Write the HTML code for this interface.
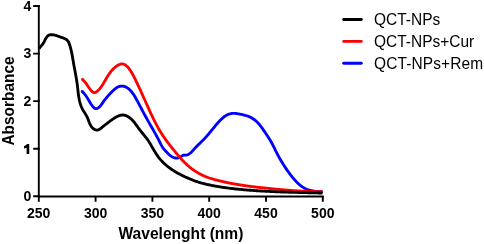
<!DOCTYPE html>
<html><head><meta charset="utf-8">
<style>
html,body{margin:0;padding:0;background:#fff;}
svg{display:block;will-change:transform;}
text{font-family:"Liberation Sans",sans-serif;}
.b{font-weight:bold;}
</style></head>
<body>
<svg width="484" height="244" viewBox="0 0 484 244" xmlns="http://www.w3.org/2000/svg">
<rect width="484" height="244" fill="#fff"/>
<g fill="none" stroke-linejoin="round" stroke-linecap="butt" stroke-width="2.85">
<path d="M82.18 91.52 L82.82 92.13 L83.44 92.75 L84.03 93.41 L84.61 94.08 L85.16 94.77 L85.69 95.48 L86.21 96.21 L86.71 96.94 L87.20 97.68 L87.67 98.43 L88.13 99.18 L88.57 99.92 L89.01 100.67 L89.45 101.42 L89.89 102.16 L90.34 102.91 L90.80 103.66 L91.29 104.41 L91.80 105.16 L92.34 105.91 L92.92 106.67 L93.54 107.40 L94.21 108.02 L94.93 108.47 L95.71 108.67 L96.54 108.61 L97.37 108.33 L98.16 107.92 L98.87 107.41 L99.53 106.83 L100.14 106.20 L100.70 105.51 L101.23 104.80 L101.75 104.06 L102.26 103.32 L102.77 102.58 L103.29 101.85 L103.82 101.13 L104.35 100.42 L104.88 99.72 L105.43 99.02 L105.98 98.33 L106.53 97.65 L107.10 96.98 L107.67 96.31 L108.24 95.66 L108.83 95.00 L109.42 94.36 L110.02 93.72 L110.63 93.08 L111.25 92.45 L111.87 91.83 L112.51 91.21 L113.15 90.59 L113.80 89.98 L114.46 89.38 L115.14 88.80 L115.83 88.25 L116.55 87.75 L117.30 87.29 L118.08 86.90 L118.90 86.59 L119.76 86.36 L120.64 86.21 L121.53 86.14 L122.42 86.15 L123.31 86.24 L124.18 86.42 L125.03 86.67 L125.84 87.01 L126.62 87.41 L127.38 87.87 L128.10 88.38 L128.80 88.94 L129.46 89.53 L130.10 90.15 L130.71 90.79 L131.29 91.46 L131.86 92.14 L132.40 92.83 L132.92 93.54 L133.42 94.27 L133.90 95.01 L134.38 95.76 L134.84 96.51 L135.29 97.28 L135.73 98.05 L136.16 98.83 L136.59 99.60 L137.01 100.38 L137.43 101.16 L137.85 101.94 L138.27 102.73 L138.69 103.51 L139.10 104.29 L139.51 105.07 L139.92 105.86 L140.33 106.64 L140.74 107.42 L141.15 108.20 L141.56 108.98 L141.97 109.77 L142.38 110.55 L142.79 111.33 L143.21 112.11 L143.62 112.89 L144.04 113.66 L144.46 114.44 L144.88 115.21 L145.30 115.99 L145.73 116.76 L146.16 117.53 L146.59 118.30 L147.02 119.07 L147.45 119.84 L147.89 120.61 L148.32 121.37 L148.76 122.14 L149.20 122.91 L149.64 123.67 L150.08 124.44 L150.52 125.20 L150.96 125.97 L151.40 126.74 L151.84 127.50 L152.27 128.27 L152.71 129.04 L153.15 129.80 L153.58 130.57 L154.02 131.34 L154.45 132.11 L154.88 132.88 L155.31 133.66 L155.74 134.43 L156.16 135.20 L156.59 135.98 L157.01 136.76 L157.42 137.54 L157.84 138.32 L158.25 139.10 L158.66 139.88 L159.06 140.67 L159.46 141.46 L159.85 142.25 L160.25 143.04 L160.65 143.83 L161.05 144.62 L161.47 145.39 L161.90 146.16 L162.36 146.91 L162.84 147.65 L163.35 148.36 L163.90 149.06 L164.47 149.74 L165.05 150.40 L165.65 151.05 L166.26 151.69 L166.86 152.33 L167.46 152.96 L168.07 153.58 L168.69 154.19 L169.33 154.78 L170.00 155.35 L170.72 155.90 L171.48 156.41 L172.26 156.88 L173.08 157.28 L173.91 157.61 L174.76 157.86 L175.62 158.02 L176.48 158.07 L177.34 158.02 L178.20 157.88 L179.03 157.64 L179.85 157.31 L180.63 156.90 L181.37 156.41 L182.10 155.89 L182.84 155.45 L183.65 155.19 L184.52 155.10 L185.42 155.08 L186.31 155.02 L187.17 154.83 L187.98 154.54 L188.76 154.16 L189.51 153.69 L190.22 153.17 L190.89 152.59 L191.53 151.97 L192.14 151.33 L192.73 150.67 L193.32 150.00 L193.91 149.33 L194.50 148.67 L195.10 148.02 L195.71 147.38 L196.33 146.75 L196.95 146.13 L197.57 145.51 L198.20 144.89 L198.83 144.28 L199.47 143.67 L200.10 143.06 L200.73 142.45 L201.36 141.83 L201.99 141.22 L202.62 140.59 L203.24 139.97 L203.85 139.33 L204.46 138.69 L205.07 138.05 L205.66 137.39 L206.26 136.73 L206.84 136.07 L207.43 135.40 L208.01 134.73 L208.58 134.05 L209.15 133.37 L209.72 132.69 L210.29 132.01 L210.85 131.32 L211.40 130.64 L211.96 129.96 L212.51 129.27 L213.07 128.59 L213.62 127.91 L214.17 127.23 L214.72 126.55 L215.28 125.88 L215.84 125.21 L216.41 124.54 L216.98 123.87 L217.56 123.21 L218.15 122.55 L218.75 121.89 L219.35 121.24 L219.97 120.59 L220.60 119.95 L221.25 119.32 L221.90 118.70 L222.57 118.10 L223.25 117.52 L223.95 116.96 L224.66 116.43 L225.38 115.93 L226.12 115.46 L226.88 115.04 L227.65 114.65 L228.44 114.31 L229.24 114.01 L230.06 113.77 L230.89 113.59 L231.75 113.46 L232.61 113.39 L233.49 113.36 L234.38 113.38 L235.28 113.44 L236.18 113.53 L237.09 113.65 L238.00 113.79 L238.90 113.94 L239.80 114.11 L240.69 114.29 L241.57 114.47 L242.45 114.65 L243.31 114.84 L244.16 115.05 L245.01 115.26 L245.85 115.50 L246.68 115.75 L247.50 116.02 L248.31 116.32 L249.11 116.64 L249.90 116.99 L250.69 117.38 L251.47 117.79 L252.23 118.24 L252.98 118.72 L253.71 119.22 L254.43 119.74 L255.13 120.29 L255.81 120.86 L256.47 121.45 L257.11 122.06 L257.73 122.69 L258.33 123.33 L258.91 123.99 L259.48 124.66 L260.04 125.34 L260.58 126.03 L261.12 126.74 L261.64 127.45 L262.16 128.17 L262.67 128.89 L263.17 129.62 L263.67 130.35 L264.17 131.08 L264.67 131.81 L265.17 132.55 L265.67 133.28 L266.17 134.01 L266.67 134.74 L267.16 135.47 L267.65 136.21 L268.14 136.94 L268.62 137.68 L269.09 138.43 L269.56 139.17 L270.02 139.92 L270.47 140.67 L270.92 141.43 L271.35 142.20 L271.78 142.97 L272.19 143.74 L272.60 144.52 L273.00 145.30 L273.40 146.09 L273.79 146.88 L274.18 147.67 L274.56 148.46 L274.95 149.25 L275.34 150.04 L275.72 150.84 L276.12 151.63 L276.51 152.42 L276.91 153.21 L277.32 154.00 L277.73 154.78 L278.15 155.57 L278.57 156.35 L279.00 157.12 L279.43 157.90 L279.87 158.67 L280.32 159.44 L280.77 160.20 L281.22 160.96 L281.68 161.72 L282.14 162.48 L282.61 163.23 L283.07 163.98 L283.55 164.73 L284.02 165.47 L284.50 166.21 L284.98 166.94 L285.46 167.68 L285.95 168.41 L286.44 169.13 L286.93 169.85 L287.43 170.57 L287.94 171.29 L288.45 172.00 L288.96 172.71 L289.48 173.41 L290.01 174.12 L290.54 174.82 L291.08 175.51 L291.63 176.21 L292.18 176.90 L292.74 177.59 L293.31 178.28 L293.89 178.96 L294.48 179.64 L295.07 180.31 L295.68 180.97 L296.30 181.62 L296.92 182.26 L297.56 182.89 L298.21 183.51 L298.87 184.11 L299.54 184.69 L300.22 185.26 L300.92 185.80 L301.62 186.32 L302.35 186.83 L303.08 187.30 L303.83 187.75 L304.59 188.18 L305.37 188.57 L306.16 188.94 L306.97 189.28 L307.79 189.59 L308.62 189.87 L309.46 190.13 L310.31 190.36 L311.17 190.58 L312.03 190.76 L312.90 190.93 L313.78 191.08 L314.66 191.21 L315.54 191.32 L316.43 191.41 L317.32 191.49 L318.20 191.55 L319.09 191.60 L319.97 191.64 L320.85 191.66 L321.73 191.68 L322.60 191.68" stroke="#0000ff"/>
<path d="M82.47 79.52 L83.10 80.10 L83.70 80.68 L84.25 81.27 L84.78 81.87 L85.28 82.47 L85.76 83.08 L86.22 83.70 L86.67 84.33 L87.12 84.97 L87.57 85.63 L88.02 86.30 L88.48 86.99 L88.96 87.69 L89.46 88.42 L89.98 89.15 L90.52 89.87 L91.08 90.55 L91.66 91.17 L92.25 91.71 L92.86 92.14 L93.48 92.45 L94.11 92.60 L94.75 92.59 L95.40 92.39 L96.04 92.06 L96.68 91.62 L97.30 91.11 L97.90 90.58 L98.48 90.02 L99.04 89.43 L99.58 88.83 L100.10 88.21 L100.61 87.57 L101.10 86.92 L101.58 86.25 L102.04 85.57 L102.49 84.88 L102.94 84.19 L103.37 83.48 L103.80 82.77 L104.22 82.06 L104.64 81.35 L105.05 80.64 L105.46 79.93 L105.87 79.22 L106.28 78.52 L106.69 77.82 L107.11 77.12 L107.53 76.44 L107.95 75.76 L108.38 75.08 L108.82 74.42 L109.27 73.76 L109.73 73.11 L110.20 72.47 L110.69 71.84 L111.19 71.22 L111.70 70.61 L112.23 70.01 L112.78 69.42 L113.35 68.85 L113.94 68.29 L114.56 67.74 L115.19 67.20 L115.86 66.68 L116.54 66.17 L117.25 65.68 L117.98 65.23 L118.72 64.83 L119.46 64.49 L120.21 64.22 L120.95 64.03 L121.67 63.94 L122.39 63.94 L123.08 64.05 L123.77 64.24 L124.43 64.51 L125.08 64.86 L125.72 65.28 L126.34 65.76 L126.94 66.29 L127.53 66.88 L128.10 67.50 L128.65 68.17 L129.19 68.86 L129.71 69.57 L130.21 70.31 L130.70 71.05 L131.17 71.80 L131.62 72.54 L132.05 73.28 L132.47 74.01 L132.87 74.73 L133.25 75.44 L133.63 76.15 L134.00 76.85 L134.35 77.55 L134.71 78.25 L135.05 78.95 L135.40 79.65 L135.74 80.35 L136.08 81.06 L136.42 81.77 L136.76 82.48 L137.10 83.19 L137.44 83.90 L137.77 84.62 L138.11 85.34 L138.45 86.06 L138.79 86.78 L139.12 87.51 L139.46 88.23 L139.79 88.96 L140.13 89.69 L140.46 90.42 L140.80 91.15 L141.13 91.89 L141.47 92.62 L141.80 93.36 L142.13 94.09 L142.47 94.83 L142.80 95.57 L143.13 96.31 L143.47 97.05 L143.80 97.79 L144.13 98.53 L144.47 99.27 L144.80 100.01 L145.13 100.76 L145.46 101.50 L145.80 102.24 L146.13 102.98 L146.46 103.72 L146.79 104.46 L147.13 105.20 L147.46 105.94 L147.79 106.68 L148.12 107.42 L148.46 108.16 L148.79 108.90 L149.13 109.63 L149.46 110.37 L149.80 111.10 L150.13 111.84 L150.47 112.57 L150.81 113.30 L151.15 114.03 L151.49 114.76 L151.84 115.49 L152.18 116.21 L152.53 116.94 L152.88 117.66 L153.23 118.39 L153.58 119.11 L153.94 119.83 L154.30 120.55 L154.66 121.26 L155.02 121.98 L155.39 122.69 L155.76 123.40 L156.13 124.11 L156.50 124.82 L156.88 125.53 L157.27 126.23 L157.65 126.93 L158.04 127.63 L158.43 128.33 L158.83 129.03 L159.23 129.72 L159.64 130.41 L160.05 131.10 L160.46 131.79 L160.88 132.47 L161.30 133.15 L161.73 133.83 L162.17 134.51 L162.60 135.18 L163.05 135.85 L163.50 136.52 L163.95 137.19 L164.41 137.85 L164.87 138.52 L165.34 139.17 L165.81 139.83 L166.29 140.49 L166.77 141.14 L167.25 141.79 L167.73 142.44 L168.22 143.08 L168.72 143.73 L169.21 144.37 L169.71 145.01 L170.21 145.65 L170.71 146.28 L171.21 146.92 L171.72 147.55 L172.22 148.19 L172.73 148.82 L173.24 149.45 L173.75 150.07 L174.26 150.70 L174.77 151.33 L175.28 151.95 L175.79 152.58 L176.30 153.20 L176.81 153.82 L177.32 154.43 L177.84 155.05 L178.36 155.66 L178.88 156.27 L179.40 156.88 L179.92 157.49 L180.45 158.09 L180.99 158.68 L181.52 159.28 L182.06 159.87 L182.61 160.45 L183.16 161.03 L183.72 161.61 L184.28 162.18 L184.85 162.74 L185.42 163.30 L186.01 163.86 L186.60 164.41 L187.19 164.95 L187.79 165.48 L188.40 166.01 L189.02 166.54 L189.64 167.05 L190.27 167.56 L190.91 168.06 L191.55 168.56 L192.20 169.05 L192.85 169.53 L193.51 170.00 L194.18 170.46 L194.85 170.91 L195.53 171.36 L196.21 171.80 L196.90 172.23 L197.59 172.65 L198.29 173.06 L198.99 173.46 L199.70 173.85 L200.41 174.23 L201.13 174.60 L201.85 174.96 L202.58 175.31 L203.31 175.65 L204.05 175.98 L204.79 176.30 L205.53 176.61 L206.28 176.90 L207.03 177.19 L207.79 177.47 L208.54 177.74 L209.30 178.00 L210.07 178.25 L210.83 178.49 L211.60 178.73 L212.37 178.96 L213.15 179.19 L213.92 179.40 L214.70 179.62 L215.48 179.83 L216.26 180.03 L217.04 180.23 L217.82 180.43 L218.60 180.62 L219.38 180.82 L220.16 181.00 L220.95 181.19 L221.73 181.37 L222.51 181.55 L223.30 181.73 L224.09 181.90 L224.87 182.08 L225.66 182.25 L226.45 182.41 L227.24 182.58 L228.02 182.74 L228.81 182.90 L229.60 183.05 L230.39 183.20 L231.18 183.36 L231.98 183.51 L232.77 183.65 L233.56 183.80 L234.35 183.94 L235.15 184.08 L235.94 184.22 L236.73 184.35 L237.53 184.48 L238.32 184.62 L239.12 184.74 L239.91 184.87 L240.71 185.00 L241.51 185.12 L242.30 185.24 L243.10 185.36 L243.90 185.48 L244.69 185.60 L245.49 185.71 L246.29 185.82 L247.09 185.93 L247.89 186.04 L248.69 186.15 L249.49 186.26 L250.29 186.36 L251.09 186.47 L251.89 186.57 L252.69 186.67 L253.49 186.77 L254.29 186.87 L255.09 186.96 L255.89 187.06 L256.69 187.15 L257.49 187.24 L258.30 187.34 L259.10 187.43 L259.90 187.52 L260.70 187.61 L261.50 187.69 L262.31 187.78 L263.11 187.87 L263.91 187.95 L264.71 188.04 L265.52 188.12 L266.32 188.20 L267.12 188.29 L267.92 188.37 L268.73 188.45 L269.53 188.53 L270.33 188.61 L271.13 188.69 L271.94 188.77 L272.74 188.85 L273.54 188.93 L274.34 189.00 L275.14 189.08 L275.95 189.16 L276.75 189.23 L277.55 189.30 L278.35 189.38 L279.16 189.45 L279.96 189.52 L280.76 189.60 L281.56 189.67 L282.37 189.74 L283.17 189.81 L283.97 189.87 L284.77 189.94 L285.58 190.01 L286.38 190.07 L287.18 190.14 L287.99 190.20 L288.79 190.26 L289.59 190.32 L290.39 190.39 L291.20 190.44 L292.00 190.50 L292.80 190.56 L293.61 190.62 L294.41 190.67 L295.21 190.72 L296.02 190.78 L296.82 190.83 L297.62 190.88 L298.43 190.93 L299.23 190.97 L300.04 191.02 L300.84 191.06 L301.64 191.11 L302.45 191.15 L303.25 191.19 L304.06 191.23 L304.86 191.26 L305.67 191.30 L306.47 191.33 L307.28 191.37 L308.08 191.40 L308.89 191.43 L309.69 191.46 L310.50 191.48 L311.31 191.51 L312.11 191.53 L312.92 191.55 L313.72 191.57 L314.53 191.59 L315.34 191.61 L316.14 191.62 L316.95 191.63 L317.76 191.65 L318.57 191.65 L319.37 191.66 L320.18 191.67 L320.99 191.67 L321.80 191.67 L322.61 191.67" stroke="#ff0000"/>
<path d="M39.18 48.48 L39.83 47.68 L40.46 46.92 L41.08 46.18 L41.69 45.44 L42.27 44.70 L42.83 43.93 L43.37 43.13 L43.88 42.26 L44.37 41.34 L44.85 40.39 L45.33 39.44 L45.82 38.51 L46.34 37.63 L46.91 36.82 L47.53 36.11 L48.21 35.53 L48.98 35.10 L49.83 34.83 L50.74 34.71 L51.71 34.70 L52.70 34.79 L53.70 34.95 L54.70 35.17 L55.67 35.42 L56.63 35.69 L57.58 36.00 L58.52 36.32 L59.45 36.65 L60.39 36.99 L61.32 37.33 L62.26 37.67 L63.21 38.01 L64.14 38.37 L65.04 38.76 L65.89 39.21 L66.67 39.74 L67.36 40.36 L67.95 41.08 L68.45 41.90 L68.88 42.79 L69.26 43.72 L69.60 44.67 L69.91 45.63 L70.20 46.60 L70.48 47.56 L70.74 48.52 L70.98 49.48 L71.21 50.45 L71.43 51.41 L71.63 52.38 L71.83 53.35 L72.01 54.31 L72.19 55.28 L72.36 56.25 L72.53 57.22 L72.69 58.18 L72.86 59.15 L73.02 60.12 L73.18 61.09 L73.35 62.06 L73.52 63.02 L73.69 63.99 L73.87 64.96 L74.04 65.93 L74.22 66.89 L74.40 67.86 L74.59 68.83 L74.77 69.80 L74.95 70.77 L75.13 71.74 L75.31 72.71 L75.49 73.68 L75.67 74.65 L75.85 75.62 L76.02 76.59 L76.19 77.57 L76.35 78.54 L76.51 79.52 L76.67 80.49 L76.82 81.47 L76.96 82.45 L77.10 83.43 L77.24 84.41 L77.36 85.39 L77.48 86.37 L77.59 87.36 L77.70 88.34 L77.81 89.33 L77.92 90.31 L78.03 91.30 L78.14 92.28 L78.26 93.26 L78.38 94.24 L78.51 95.22 L78.66 96.19 L78.81 97.16 L78.97 98.13 L79.15 99.10 L79.35 100.06 L79.56 101.01 L79.80 101.96 L80.05 102.91 L80.33 103.84 L80.63 104.77 L80.96 105.69 L81.31 106.60 L81.70 107.50 L82.12 108.39 L82.57 109.26 L83.05 110.13 L83.56 110.99 L84.08 111.84 L84.61 112.69 L85.14 113.53 L85.66 114.38 L86.16 115.23 L86.64 116.09 L87.09 116.96 L87.50 117.84 L87.87 118.74 L88.22 119.64 L88.55 120.55 L88.88 121.46 L89.23 122.38 L89.60 123.28 L90.01 124.18 L90.47 125.07 L91.00 125.95 L91.61 126.81 L92.30 127.63 L93.05 128.39 L93.85 129.06 L94.69 129.60 L95.56 129.98 L96.43 130.18 L97.31 130.16 L98.18 129.94 L99.04 129.55 L99.89 129.03 L100.72 128.42 L101.54 127.77 L102.34 127.11 L103.12 126.47 L103.89 125.85 L104.64 125.25 L105.39 124.66 L106.14 124.09 L106.88 123.52 L107.63 122.95 L108.39 122.38 L109.16 121.81 L109.94 121.22 L110.74 120.63 L111.56 120.02 L112.40 119.42 L113.25 118.82 L114.12 118.24 L115.00 117.68 L115.89 117.15 L116.79 116.66 L117.70 116.22 L118.61 115.84 L119.53 115.52 L120.45 115.27 L121.38 115.10 L122.30 115.01 L123.23 115.03 L124.15 115.14 L125.07 115.35 L125.97 115.65 L126.87 116.03 L127.74 116.48 L128.60 116.99 L129.44 117.56 L130.24 118.18 L131.02 118.83 L131.76 119.52 L132.47 120.23 L133.15 120.96 L133.79 121.71 L134.42 122.47 L135.02 123.25 L135.61 124.04 L136.19 124.83 L136.76 125.64 L137.32 126.44 L137.89 127.25 L138.46 128.05 L139.03 128.85 L139.62 129.65 L140.22 130.43 L140.83 131.21 L141.46 131.98 L142.09 132.74 L142.72 133.51 L143.36 134.27 L143.99 135.03 L144.62 135.79 L145.25 136.56 L145.86 137.33 L146.46 138.11 L147.05 138.89 L147.62 139.68 L148.17 140.49 L148.71 141.30 L149.22 142.13 L149.73 142.96 L150.23 143.80 L150.72 144.65 L151.21 145.50 L151.70 146.35 L152.20 147.21 L152.70 148.07 L153.20 148.93 L153.70 149.79 L154.22 150.65 L154.74 151.50 L155.26 152.35 L155.80 153.20 L156.34 154.03 L156.89 154.86 L157.46 155.68 L158.04 156.49 L158.62 157.29 L159.23 158.07 L159.85 158.84 L160.48 159.60 L161.13 160.34 L161.79 161.06 L162.46 161.77 L163.15 162.47 L163.86 163.15 L164.57 163.82 L165.30 164.48 L166.04 165.12 L166.79 165.75 L167.55 166.37 L168.32 166.98 L169.10 167.57 L169.89 168.15 L170.70 168.73 L171.51 169.29 L172.32 169.83 L173.15 170.37 L173.98 170.90 L174.83 171.42 L175.67 171.93 L176.53 172.43 L177.39 172.91 L178.25 173.39 L179.12 173.87 L180.00 174.33 L180.88 174.78 L181.76 175.23 L182.65 175.67 L183.54 176.10 L184.43 176.53 L185.33 176.94 L186.23 177.35 L187.12 177.76 L188.02 178.16 L188.93 178.55 L189.83 178.93 L190.74 179.30 L191.65 179.67 L192.56 180.03 L193.47 180.38 L194.39 180.72 L195.31 181.05 L196.24 181.38 L197.17 181.69 L198.10 182.00 L199.04 182.29 L199.99 182.57 L200.93 182.85 L201.88 183.11 L202.84 183.37 L203.79 183.62 L204.75 183.86 L205.71 184.09 L206.68 184.32 L207.64 184.54 L208.61 184.75 L209.58 184.96 L210.55 185.16 L211.52 185.36 L212.49 185.55 L213.46 185.74 L214.43 185.92 L215.40 186.10 L216.37 186.27 L217.34 186.44 L218.32 186.61 L219.29 186.77 L220.26 186.92 L221.24 187.08 L222.21 187.23 L223.19 187.37 L224.16 187.51 L225.14 187.65 L226.12 187.78 L227.09 187.92 L228.07 188.04 L229.05 188.17 L230.03 188.29 L231.00 188.41 L231.98 188.52 L232.96 188.64 L233.94 188.75 L234.92 188.85 L235.90 188.96 L236.88 189.06 L237.86 189.16 L238.84 189.26 L239.82 189.36 L240.80 189.45 L241.79 189.54 L242.77 189.63 L243.75 189.72 L244.73 189.81 L245.71 189.89 L246.70 189.98 L247.68 190.06 L248.66 190.14 L249.64 190.21 L250.63 190.29 L251.61 190.37 L252.59 190.44 L253.58 190.51 L254.56 190.58 L255.55 190.65 L256.53 190.71 L257.51 190.78 L258.50 190.84 L259.48 190.91 L260.47 190.97 L261.45 191.03 L262.44 191.08 L263.42 191.14 L264.41 191.20 L265.39 191.25 L266.38 191.30 L267.37 191.35 L268.35 191.40 L269.34 191.45 L270.32 191.50 L271.31 191.55 L272.29 191.59 L273.28 191.64 L274.27 191.68 L275.25 191.72 L276.24 191.77 L277.23 191.81 L278.21 191.85 L279.20 191.88 L280.19 191.92 L281.17 191.96 L282.16 191.99 L283.15 192.03 L284.13 192.06 L285.12 192.10 L286.11 192.13 L287.09 192.16 L288.08 192.19 L289.07 192.22 L290.05 192.25 L291.04 192.28 L292.03 192.31 L293.01 192.34 L294.00 192.37 L294.99 192.40 L295.97 192.42 L296.96 192.45 L297.95 192.47 L298.93 192.50 L299.92 192.53 L300.91 192.55 L301.89 192.57 L302.88 192.60 L303.87 192.62 L304.85 192.65 L305.84 192.67 L306.83 192.69 L307.81 192.71 L308.80 192.74 L309.78 192.76 L310.77 192.78 L311.76 192.80 L312.74 192.83 L313.73 192.85 L314.71 192.87 L315.70 192.89 L316.68 192.92 L317.67 192.94 L318.65 192.96 L319.64 192.98 L320.62 193.01 L321.61 193.03 L322.59 193.05" stroke="#000"/>
</g>
<circle cx="82.5" cy="79.5" r="1.425" fill="#ff0000"/>
<circle cx="82.2" cy="91.5" r="1.425" fill="#0000ff"/>
<g stroke="#000" stroke-width="1.9" fill="none" stroke-linecap="butt">
<path d="M38.8 5.05V201.8"/>
<path d="M37.85 196.45H323.75" stroke-width="2"/>
<path d="M33.2 6H39.75M33.2 53.6H39.75M33.2 101.15H39.75M33.2 148.7H39.75M33.2 196.3H39.75"/>
<path d="M95.6 196.3V201.8M152.4 196.3V201.8M209.2 196.3V201.8M266 196.3V201.8M322.8 196.3V201.8"/>
</g>
<g class="b" font-size="14" text-anchor="end">
<text x="31.4" y="10.75">4</text>
<text x="31.4" y="58.3">3</text>
<text x="31.4" y="105.8">2</text>
<text x="31.4" y="201.4">0</text>
</g>
<path d="M27.1 144H29.25V153.95H26.6V147.5Q25.4 148.3 24 148.6V146.2Q25.9 145.5 27.1 144Z" fill="#000"/>
<g class="b" font-size="14" text-anchor="middle" transform="translate(0,0.45)">
<text x="38.6" y="217.2">250</text>
<text x="95.6" y="217.2">300</text>
<text x="152.4" y="217.2">350</text>
<text x="209.2" y="217.2">400</text>
<text x="266" y="217.2">450</text>
<text x="322.8" y="217.2">500</text>
</g>
<text class="b" font-size="15.6" transform="translate(118.4,238.7) scale(1,1.03)">Wavelenght (nm)</text>
<text class="b" font-size="15.45" transform="translate(13.8,145.6) rotate(-90) scale(1,1.02)">Absorbance</text>
<g stroke-width="2.9" stroke-linecap="round">
<path d="M343.7 19.45H361.3" stroke="#000"/>
<path d="M343.7 41.4H361.3" stroke="#ff0000"/>
<path d="M343.7 63.3H361.3" stroke="#0000ff"/>
</g>
<g font-size="15.5">
<text transform="translate(374,24.55) scale(1,1.04)">QCT-NPs</text>
<text transform="translate(374,46.55) scale(1,1.04)">QCT-NPs+Cur</text>
<text transform="translate(374,68.55) scale(1,1.04)" letter-spacing="0.12">QCT-NPs+Rem</text>
</g>
</svg>
</body></html>
